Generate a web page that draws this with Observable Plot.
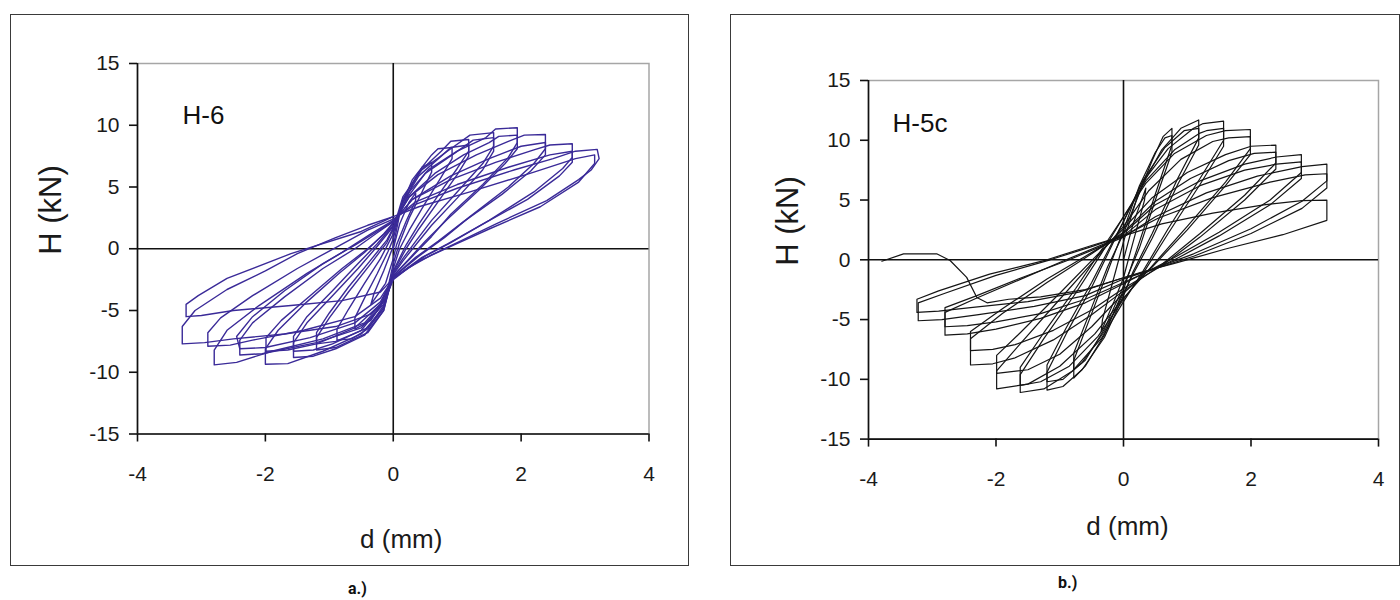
<!DOCTYPE html>
<html>
<head>
<meta charset="utf-8">
<script src="https://cdn.jsdelivr.net/npm/d3@7"></script>
<script src="https://cdn.jsdelivr.net/npm/@observablehq/plot@0.6"></script>
<style>
  html, body { margin: 0; padding: 0; background: #fff; }
  body { width: 1400px; height: 600px; position: relative; overflow: hidden; font-family: "Liberation Sans", Arial, sans-serif; }
  .box { position: absolute; border: 1.5px solid #3a3a3a; box-sizing: border-box; }
  .chart { position: absolute; top: 0; width: 700px; height: 600px; }
  .cap { position: absolute; font-family: Roboto, "Liberation Sans", sans-serif; font-weight: bold; font-size: 16px; color: #111; }
</style>
</head>
<body>
<div class="box" style="left:10px;top:14px;width:679px;height:552px"></div>
<div class="box" style="left:730px;top:14px;width:670px;height:552px"></div>
<div id="chartA" class="chart" style="left:0px"></div>
<div id="chartB" class="chart" style="left:700px"></div>
<div class="cap" style="left:348px;top:579px">a.)</div>
<div class="cap" style="left:1058px;top:573px">b.)</div>
<script>
// ---------- shared axis ticks ----------
const xTicks = [-4, -2, 0, 2, 4];
const yTicks = [-15, -10, -5, 0, 5, 10, 15];
const xLabel = "d (mm)";
const yLabel = "H (kN)";

// ---------- specimen H-6 : hysteresis cycles, [d (mm), H (kN)] ----------
const h6Name = "H-6";
const h6Loops = [
  [[0,0],[0.1,2.0],[0.25,3.8],[0.35,4.5],[0.35,3.9],[0.2,2.2],[0.05,0.3],[0,-0.8],[-0.12,-2.8],[-0.35,-4.5],[-0.3,-3.6],[-0.15,-1.8],[0,0.2]],
  [[0,0.2],[0.1,2.8],[0.3,5.2],[0.45,6.6],[0.6,7.0],[0.6,6.2],[0.45,4.6],[0.25,2.5],[0.1,0.5],[0,-1.2],[-0.12,-4.0],[-0.35,-5.8],[-0.6,-6.5],[-0.6,-5.6],[-0.45,-4.0],[-0.25,-2.0],[-0.08,-0.2],[0,0.8]],
  [[0,0.8],[0.12,3.4],[0.3,5.6],[0.6,7.6],[0.7,8.1],[0.92,8.2],[0.92,7.3],[0.75,5.8],[0.5,3.7],[0.25,1.5],[0.1,0],[0,-1.6],[-0.15,-4.8],[-0.4,-6.5],[-0.65,-7.3],[-0.88,-7.4],[-0.88,-6.5],[-0.7,-4.9],[-0.45,-2.8],[-0.2,-0.8],[0,1.2]],
  [[0,1.2],[0.15,4.0],[0.4,6.2],[0.75,7.9],[0.9,8.7],[1.18,8.85],[1.18,7.9],[1.0,6.5],[0.7,4.3],[0.4,2.0],[0.2,0.3],[0,-1.8],[-0.15,-5.0],[-0.4,-6.8],[-0.9,-8.0],[-1.2,-8.2],[-1.2,-7.2],[-1.0,-5.6],[-0.7,-3.5],[-0.35,-1.2],[-0.1,0.5],[0,1.6]],
  [[0,1.4],[0.15,3.8],[0.4,5.9],[0.75,7.5],[0.9,8.2],[1.18,8.4],[1.18,7.5],[1.0,6.0],[0.7,3.8],[0.4,1.6],[0.2,0],[0,-1.9],[-0.15,-4.6],[-0.4,-6.4],[-0.9,-7.5],[-1.2,-7.7],[-1.2,-6.8],[-1.0,-5.2],[-0.7,-3.1],[-0.35,-0.9],[-0.1,0.7],[0,1.7]],
  [[0,1.6],[0.15,4.2],[0.45,6.4],[0.9,8.1],[1.2,9.2],[1.57,9.4],[1.57,8.3],[1.4,6.9],[1.0,4.6],[0.6,2.3],[0.35,0.6],[0.15,-0.8],[0,-2.0],[-0.15,-5.0],[-0.45,-7.0],[-0.9,-8.1],[-1.25,-8.7],[-1.56,-8.8],[-1.56,-7.6],[-1.35,-6.0],[-0.95,-3.8],[-0.55,-1.6],[-0.25,0.2],[0,1.8]],
  [[0,1.7],[0.2,4.0],[0.5,6.1],[0.95,7.7],[1.25,8.8],[1.57,9.0],[1.57,7.9],[1.4,6.4],[1.0,4.1],[0.6,1.9],[0.35,0.3],[0.15,-1.0],[0,-2.1],[-0.2,-4.7],[-0.5,-6.6],[-0.95,-7.7],[-1.25,-8.2],[-1.56,-8.3],[-1.56,-7.1],[-1.35,-5.5],[-0.95,-3.4],[-0.55,-1.2],[-0.25,0.4],[0,1.9]],
  [[0,1.8],[0.2,4.3],[0.55,6.4],[1.0,7.9],[1.45,9.0],[1.6,9.7],[1.94,9.8],[1.94,8.6],[1.8,7.4],[1.4,5.2],[0.9,2.8],[0.6,1.0],[0.3,-0.6],[0,-2.2],[-0.15,-4.8],[-0.5,-6.9],[-1.1,-8.3],[-1.65,-9.3],[-2.0,-9.35],[-2.0,-8.1],[-1.8,-6.6],[-1.35,-4.3],[-0.85,-2.0],[-0.45,-0.3],[-0.15,1.2],[0,2.1]],
  [[0,2.1],[0.25,4.2],[0.65,6.1],[1.1,7.6],[1.5,8.6],[1.65,9.1],[1.94,9.2],[1.94,8.1],[1.75,6.9],[1.35,4.8],[0.85,2.4],[0.5,0.6],[0.25,-0.8],[0,-2.2],[-0.2,-4.5],[-0.6,-6.4],[-1.2,-7.7],[-1.65,-8.2],[-1.99,-8.3],[-1.99,-7.2],[-1.75,-5.8],[-1.3,-3.8],[-0.8,-1.6],[-0.4,0],[-0.1,1.4],[0,2.1]],
  [[0,2.1],[0.25,4.2],[0.7,6.0],[1.3,7.6],[1.8,8.7],[2.05,9.2],[2.38,9.25],[2.38,8.1],[2.2,6.9],[1.8,5.0],[1.2,2.6],[0.8,0.9],[0.4,-0.6],[0,-2.3],[-0.15,-4.5],[-0.5,-6.4],[-1.2,-7.6],[-2.05,-8.5],[-2.4,-8.6],[-2.4,-7.4],[-2.2,-6.0],[-1.7,-3.9],[-1.1,-1.6],[-0.6,0],[-0.25,1.3],[0,2.2]],
  [[0,2.2],[0.3,4.0],[0.9,5.9],[1.5,7.3],[2.0,8.3],[2.38,8.6],[2.38,7.6],[2.15,6.3],[1.7,4.4],[1.1,2.2],[0.7,0.6],[0.35,-0.7],[0,-2.3],[-0.2,-4.3],[-0.6,-6.0],[-1.3,-7.2],[-2.0,-8.0],[-2.4,-8.1],[-2.45,-7.1],[-2.2,-5.5],[-1.7,-3.4],[-1.1,-1.2],[-0.6,0.3],[-0.25,1.4],[0,2.2]],
  [[0,2.2],[0.3,4.0],[0.9,5.6],[1.6,7.0],[2.2,8.0],[2.45,8.4],[2.8,8.5],[2.8,7.4],[2.65,6.5],[2.2,4.6],[1.5,2.3],[0.9,0.5],[0.5,-0.6],[0,-2.4],[-0.15,-4.3],[-0.45,-6.0],[-1.1,-7.3],[-1.9,-8.3],[-2.45,-9.2],[-2.8,-9.4],[-2.8,-8.2],[-2.6,-6.6],[-2.1,-4.6],[-1.35,-2.0],[-0.8,-0.3],[-0.35,1.2],[0,2.3]],
  [[0,2.3],[0.35,3.8],[1.0,5.2],[1.8,6.6],[2.45,7.6],[2.8,7.9],[2.8,7.0],[2.6,5.9],[2.1,4.0],[1.4,2.0],[0.85,0.4],[0.45,-0.7],[0,-2.4],[-0.2,-4.0],[-0.6,-5.5],[-1.4,-6.6],[-2.2,-7.4],[-2.55,-7.8],[-2.9,-7.9],[-2.9,-6.8],[-2.7,-5.6],[-2.2,-3.8],[-1.5,-1.6],[-0.9,0.1],[-0.4,1.5],[0,2.4]],
  [[0,2.4],[0.35,3.6],[1.0,4.9],[1.9,6.4],[2.5,7.3],[2.85,7.9],[3.19,8.05],[3.22,7.3],[3.1,6.4],[2.9,5.6],[2.4,3.9],[1.6,2.0],[1.0,0.5],[0.6,-0.5],[0.25,-1.5],[0,-2.5],[-0.12,-4.0],[-0.35,-5.3],[-0.9,-6.3],[-1.7,-6.9],[-2.5,-7.3],[-2.95,-7.6],[-3.3,-7.7],[-3.3,-6.3],[-3.1,-5.0],[-2.6,-3.3],[-2.0,-1.8],[-1.5,-0.4],[-0.9,0.9],[-0.4,1.9],[0,2.6]],
  [[0,2.6],[0.4,3.4],[1.2,4.6],[2.2,6.2],[2.85,7.3],[3.15,7.6],[3.15,6.9],[2.9,5.4],[2.3,3.4],[1.5,1.6],[0.9,0.2],[0.4,-1.0],[0,-2.4],[-0.2,-3.5],[-0.8,-4.2],[-1.6,-4.6],[-2.5,-5.0],[-3.0,-5.4],[-3.24,-5.5],[-3.24,-4.5],[-3.05,-3.8],[-2.6,-2.4],[-1.6,-0.4],[-0.5,1.4],[0,2.6]]
];

// ---------- specimen H-5c : hysteresis cycles, [d (mm), H (kN)] ----------
const h5cName = "H-5c";
const h5cLoops = [
  [[0,0],[0.15,3.0],[0.35,6.0],[0.33,5.0],[0.1,0.5],[0,-1.5],[-0.15,-3.5],[-0.35,-6.0],[-0.33,-5.0],[-0.1,-0.5],[0,1.5]],
  [[0,1.5],[0.2,5.0],[0.45,8.3],[0.62,10.3],[0.76,11.0],[0.76,9.6],[0.5,5.5],[0.25,1.5],[0,-2.5],[-0.3,-6.3],[-0.6,-8.9],[-0.78,-9.9],[-0.78,-8.4],[-0.5,-4.5],[-0.25,-1.0],[0,2.5]],
  [[0,2.5],[0.25,6.2],[0.5,9.0],[0.65,10.2],[0.76,10.4],[0.76,9.0],[0.5,5.0],[0.25,1.0],[0,-2.2],[-0.3,-5.8],[-0.6,-8.4],[-0.78,-9.2],[-0.78,-7.8],[-0.5,-4.0],[-0.25,-0.6],[0,2.2]],
  [[0,2.2],[0.3,6.3],[0.6,9.2],[0.9,11.0],[1.18,11.7],[1.18,10.2],[0.85,6.8],[0.45,2.2],[0.15,-1.0],[0,-3.0],[-0.3,-6.5],[-0.65,-9.2],[-0.95,-10.6],[-1.2,-10.9],[-1.2,-9.4],[-0.9,-6.2],[-0.5,-2.3],[-0.2,1.0],[0,3.2]],
  [[0,3.2],[0.3,6.6],[0.65,9.4],[0.95,10.8],[1.18,11.0],[1.18,9.6],[0.85,6.3],[0.45,1.8],[0.15,-1.2],[0,-2.8],[-0.3,-6.0],[-0.65,-8.6],[-0.95,-10.0],[-1.2,-10.2],[-1.2,-8.8],[-0.9,-5.7],[-0.5,-1.9],[-0.2,1.2],[0,3.2]],
  [[0,3.2],[0.3,6.5],[0.7,9.3],[1.1,11.0],[1.25,11.4],[1.57,11.6],[1.57,10.0],[1.2,6.8],[0.7,2.6],[0.3,-1.0],[0,-3.5],[-0.35,-6.6],[-0.8,-9.3],[-1.25,-10.8],[-1.62,-11.1],[-1.62,-9.6],[-1.25,-6.6],[-0.75,-2.8],[-0.35,0.5],[0,3.6]],
  [[0,3.6],[0.35,6.6],[0.8,9.2],[1.2,10.6],[1.3,10.8],[1.57,11.0],[1.57,9.5],[1.2,6.3],[0.7,2.2],[0.3,-1.2],[0,-3.3],[-0.4,-6.4],[-0.85,-8.9],[-1.3,-10.2],[-1.62,-10.5],[-1.62,-9.0],[-1.25,-6.1],[-0.75,-2.4],[-0.35,0.8],[0,3.6]],
  [[0,3.6],[0.35,6.4],[0.8,8.9],[1.3,10.4],[1.6,10.8],[1.99,10.9],[1.99,9.3],[1.6,6.5],[1.0,2.8],[0.45,-0.5],[0,-3.2],[-0.45,-6.2],[-1.0,-8.9],[-1.5,-10.4],[-1.99,-10.8],[-1.99,-9.3],[-1.6,-6.9],[-1.0,-3.3],[-0.45,0],[0,2.8]],
  [[0,2.8],[0.4,5.8],[0.9,8.4],[1.4,9.9],[1.65,10.2],[1.99,10.3],[1.99,8.8],[1.6,6.2],[1.0,2.5],[0.45,-0.6],[0,-2.8],[-0.5,-5.6],[-1.0,-7.9],[-1.5,-9.2],[-1.99,-9.5],[-1.99,-8.0],[-1.6,-6.0],[-1.0,-2.8],[-0.45,0.2],[0,2.6]],
  [[0,2.6],[0.45,5.2],[1.0,7.3],[1.6,8.8],[2.0,9.5],[2.39,9.6],[2.39,8.1],[1.9,5.4],[1.2,2.2],[0.6,-0.4],[0,-2.6],[-0.5,-4.6],[-1.1,-6.7],[-1.7,-8.2],[-2.05,-8.7],[-2.4,-8.8],[-2.4,-6.6],[-1.9,-4.5],[-1.2,-1.9],[-0.5,0.5],[0,2.3]],
  [[0,2.3],[0.5,4.9],[1.05,6.8],[1.65,8.3],[2.05,8.9],[2.39,9.0],[2.39,7.6],[1.9,5.0],[1.2,1.9],[0.6,-0.5],[0,-2.4],[-0.5,-4.2],[-1.1,-5.9],[-1.7,-7.1],[-2.05,-7.5],[-2.4,-7.6],[-2.4,-6.0],[-1.9,-4.1],[-1.2,-1.6],[-0.5,0.6],[0,2.2]],
  [[0,2.2],[0.5,4.6],[1.2,6.6],[1.9,8.0],[2.4,8.6],[2.79,8.8],[2.79,7.3],[2.3,5.0],[1.5,2.3],[0.8,0.2],[0,-2.0],[-0.6,-3.6],[-1.3,-4.9],[-2.0,-5.8],[-2.45,-6.2],[-2.8,-6.3],[-2.8,-4.4],[-2.3,-3.2],[-1.6,-1.6],[-0.9,0],[0,2.0]],
  [[0,2.0],[0.5,4.2],[1.2,6.2],[1.9,7.5],[2.4,8.0],[2.79,8.2],[2.79,6.8],[2.3,4.6],[1.5,2.0],[0.8,0],[0,-1.9],[-0.6,-3.3],[-1.3,-4.5],[-2.0,-5.2],[-2.45,-5.5],[-2.8,-5.6],[-2.8,-4.0],[-2.3,-3.0],[-1.6,-1.5],[-0.9,-0.1],[0,1.9]],
  [[0,1.9],[0.5,3.6],[1.3,5.6],[2.1,7.0],[2.8,7.8],[3.19,8.0],[3.19,6.6],[2.8,4.9],[2.0,2.6],[1.1,0.5],[0.4,-0.9],[0,-1.6],[-0.6,-3.0],[-1.4,-3.9],[-2.3,-4.6],[-2.85,-5.0],[-3.22,-5.1],[-3.22,-3.6],[-2.8,-2.8],[-2.0,-1.3],[-1.15,0],[-0.5,1.1],[0,2.0]],
  [[0,2.0],[0.55,3.5],[1.4,5.2],[2.3,6.5],[2.85,7.1],[3.19,7.2],[3.19,6.0],[2.8,4.3],[2.0,2.2],[1.1,0.3],[0.4,-0.9],[0,-1.5],[-0.7,-2.7],[-1.5,-3.5],[-2.4,-4.0],[-2.9,-4.3],[-3.24,-4.4],[-3.24,-3.3],[-2.9,-2.6],[-2.1,-1.2],[-1.2,0],[-0.5,1.2],[0,2.0]],
  [[0,2.0],[0.6,3.0],[1.4,3.9],[2.2,4.6],[2.8,4.95],[3.19,5.0],[3.19,3.3],[2.5,2.1],[1.6,0.9],[0.8,-0.3],[0.3,-1.0],[0,-1.5],[-0.6,-2.5],[-1.3,-3.1],[-1.8,-3.3],[-2.14,-3.6],[-2.3,-3.16],[-2.46,-1.47],[-2.72,-0.06],[-2.93,0.5],[-3.45,0.5],[-3.79,-0.12]]
];

function hysteresisChart(loops, cfg) {
  const rows = loops.flatMap((loop, i) => loop.map(([d, H]) => ({cycle: i, d, H})));
  const fmt = (v) => String(v);
  return Plot.plot({
    width: 700,
    height: 600,
    marginLeft: cfg.left,
    marginRight: cfg.right,
    marginTop: cfg.top,
    marginBottom: cfg.bottom,
    style: {fontFamily: "'Liberation Sans', Arial, sans-serif", fontSize: "21px", color: "#1a1a1a", background: "transparent", overflow: "visible"},
    x: {domain: [-4, 4], label: null},
    y: {domain: [-15, 15], label: null},
    marks: [
      Plot.frame({stroke: "#a6a6a6", strokeWidth: 1.5}),
      Plot.ruleY([0], {stroke: "#111", strokeWidth: 1.6}),
      Plot.ruleX([0], {stroke: "#111", strokeWidth: 1.6}),
      Plot.line(rows, {x: "d", y: "H", z: "cycle", stroke: cfg.color, strokeWidth: cfg.lineWidth, curve: "linear"}),
      Plot.ruleX([-4], {stroke: "#111", strokeWidth: 1.6}),
      Plot.ruleY([-15], {stroke: "#111", strokeWidth: 1.6}),
      Plot.axisX(xTicks, {label: null, tickSize: 8, tickPadding: 24, tickFormat: fmt, stroke: "#111", strokeWidth: 1.6, fontSize: 21}),
      Plot.axisY(yTicks, {label: null, tickSize: 8, tickPadding: 10, tickFormat: fmt, stroke: "#111", strokeWidth: 1.6, fontSize: 21}),
      Plot.text([cfg.name], {text: (d) => d, frameAnchor: "top-left", textAnchor: "start", lineAnchor: "middle", dx: cfg.nameDx, dy: cfg.nameDy, fontSize: 26, fill: "#111"}),
      Plot.text([xLabel], {text: (d) => d, frameAnchor: "bottom", lineAnchor: "middle", dx: cfg.xLabelDx, dy: cfg.xLabelDy, fontSize: 26, fill: "#1a1a1a"}),
      Plot.text([yLabel], {text: (d) => d, frameAnchor: "left", lineAnchor: "middle", rotate: -90, dx: cfg.yLabelDx, dy: cfg.yLabelDy, fontSize: 31, fill: "#1a1a1a"})
    ]
  });
}

document.getElementById("chartA").append(hysteresisChart(h6Loops, {
  left: 137, right: 51.5, top: 63, bottom: 166.5,
  color: "#3a2a98", lineWidth: 1.4, name: h6Name,
  nameDx: 45, nameDy: 52, xLabelDx: 8, xLabelDy: 106, yLabelDx: -86, yLabelDy: 6
}));
document.getElementById("chartB").append(hysteresisChart(h5cLoops, {
  left: 168, right: 22, top: 80, bottom: 161.4,
  color: "#151515", lineWidth: 1.2, name: h5cName,
  nameDx: 24, nameDy: 43, xLabelDx: 4, xLabelDy: 88, yLabelDx: -80, yLabelDy: 6
}));
</script>
</body>
</html>
